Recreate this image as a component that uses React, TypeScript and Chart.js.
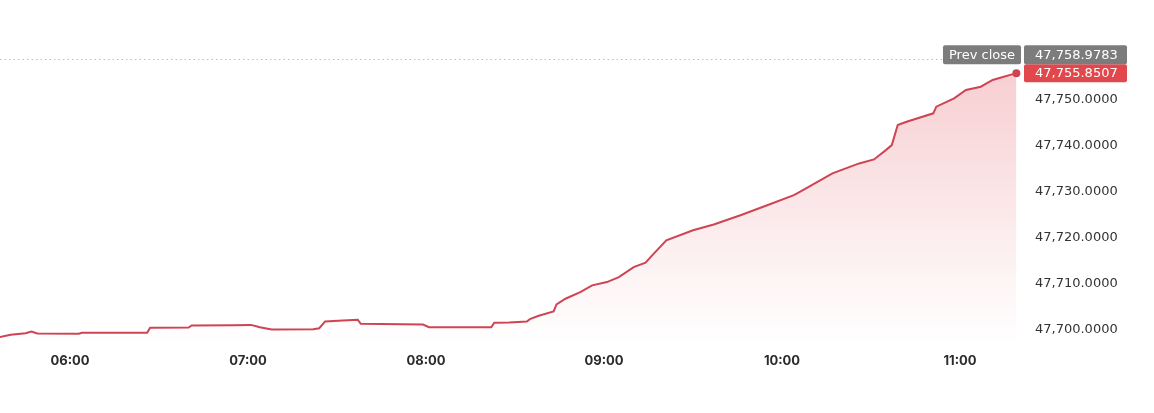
import React, { useEffect, useRef } from 'react';
import { Chart, registerables } from 'chart.js';

Chart.register(...registerables);

const times = [
  '05:36', '05:40', '05:45', '05:47', '05:49', '06:03', '06:04', '06:26', '06:27', '06:40',
  '06:41', '06:55', '07:01', '07:04', '07:08', '07:22', '07:24', '07:26', '07:32', '07:37',
  '07:38', '07:59', '08:01', '08:22', '08:23', '08:28', '08:34', '08:35', '08:38', '08:43',
  '08:44', '08:47', '08:52', '08:56', '09:01', '09:05', '09:10', '09:14', '09:16', '09:21',
  '09:30', '09:37', '09:46', '09:55', '10:04', '10:06', '10:13', '10:17', '10:26', '10:31',
  '10:35', '10:37', '10:39', '10:42', '10:51', '10:52', '10:58', '11:02', '11:07', '11:11',
  '11:13', '11:19',
];

const values = [
  47698.32, 47698.84, 47699.19, 47699.56, 47699.13, 47699.06, 47699.28, 47699.28, 47700.37, 47700.44,
  47700.87, 47700.94, 47701.0, 47700.5, 47700.0, 47700.07, 47700.28, 47701.75, 47701.97, 47702.12,
  47701.24, 47701.09, 47700.5, 47700.5, 47701.46, 47701.53, 47701.75, 47702.25, 47702.99, 47703.93,
  47705.46, 47706.7, 47708.14, 47709.61, 47710.33, 47711.42, 47713.6, 47714.56, 47716.0, 47719.43,
  47721.62, 47722.86, 47724.89, 47727.07, 47729.26, 47730.0, 47732.53, 47734.0, 47736.18, 47737.05,
  47739.08, 47740.17, 47744.54, 47745.26, 47747.1, 47748.54, 47750.37, 47752.18, 47752.9, 47754.37,
  47754.74, 47755.8507,
];

const yTickValues = [47700, 47710, 47720, 47730, 47740, 47750];
const xTickLabels = ['06:00', '07:00', '08:00', '09:00', '10:00', '11:00'];
const prevCloseLabel = 'Prev close';
const prevClose = 47758.9783;
const lastPrice = 47755.8507;

const X_MIN = 336.4;
const X_MAX = 680.22;
const Y_MIN = 47696.62;
const Y_MAX = 47769.61;

const FONT = 'Inter, "Open Sans", "Liberation Sans", sans-serif';
const NUM_FONT = '"DejaVu Sans", sans-serif';
const LINE_COLOR = '#cf4453';
const RED = '#e2474b';
const GREY = '#7c7c7c';

function toMin(s: string): number {
  const [h, m] = s.split(':').map(Number);
  return h * 60 + m;
}

function fmt(v: number): string {
  return v.toLocaleString('en-US', { minimumFractionDigits: 4, maximumFractionDigits: 4 });
}

function roundRect(ctx: CanvasRenderingContext2D, x: number, y: number, w: number, h: number, r: number) {
  ctx.beginPath();
  ctx.moveTo(x + r, y);
  ctx.lineTo(x + w - r, y);
  ctx.quadraticCurveTo(x + w, y, x + w, y + r);
  ctx.lineTo(x + w, y + h - r);
  ctx.quadraticCurveTo(x + w, y + h, x + w - r, y + h);
  ctx.lineTo(x + r, y + h);
  ctx.quadraticCurveTo(x, y + h, x, y + h - r);
  ctx.lineTo(x, y + r);
  ctx.quadraticCurveTo(x, y, x + r, y);
  ctx.closePath();
}

const refPlugin = {
  id: 'refBadges',
  beforeDatasetsDraw(chart: any) {
    const { ctx, chartArea, scales } = chart;
    const py = Math.round(scales.y.getPixelForValue(prevClose)) + 0.5;
    ctx.save();
    ctx.strokeStyle = '#bdbdbd';
    ctx.lineWidth = 1;
    ctx.setLineDash([1.5, 3]);
    ctx.beginPath();
    ctx.moveTo(chartArea.left, py);
    ctx.lineTo(chartArea.right - 78, py);
    ctx.stroke();
    ctx.restore();
  },
  afterDraw(chart: any) {
    const { ctx, chartArea, scales } = chart;
    const ly = scales.y.getPixelForValue(lastPrice);
    const boxX = chartArea.right + 4;
    const boxW = 103;
    const redTop = ly - 9;
    const redH = 18;
    const greyH = 19;
    const greyTop = redTop - greyH;
    ctx.save();
    ctx.font = '13px ' + NUM_FONT;
    ctx.textBaseline = 'middle';
    ctx.textAlign = 'left';
    ctx.fillStyle = RED;
    roundRect(ctx, boxX, redTop, boxW, redH, 2);
    ctx.fill();
    ctx.fillStyle = GREY;
    roundRect(ctx, boxX, greyTop, boxW, greyH, 2);
    ctx.fill();
    const pcW = 78;
    roundRect(ctx, chartArea.right - pcW + 1, greyTop, pcW, greyH, 2);
    ctx.fill();
    ctx.fillStyle = '#ffffff';
    ctx.fillText(fmt(lastPrice), chartArea.right + 15, redTop + redH / 2 + 0.5);
    ctx.fillText(fmt(prevClose), chartArea.right + 15, greyTop + greyH / 2 + 0.5);
    ctx.textAlign = 'center';
    ctx.fillText(prevCloseLabel, chartArea.right - pcW / 2 + 1, greyTop + greyH / 2 + 0.5);
    ctx.restore();
  },
};

export default function App() {
  const canvasRef = useRef<HTMLCanvasElement | null>(null);

  useEffect(() => {
    const canvas = canvasRef.current;
    if (!canvas) return;
    const ctx = canvas.getContext('2d')!;
    const grad = ctx.createLinearGradient(0, 70, 0, 345);
    grad.addColorStop(0, 'rgba(226, 80, 90, 0.28)');
    grad.addColorStop(0.6, 'rgba(226, 80, 90, 0.10)');
    grad.addColorStop(1, 'rgba(226, 80, 90, 0.0)');

    const data = times.map((t, i) => ({ x: toMin(t), y: values[i] }));
    const lastIdx = data.length - 1;

    const chart = new Chart(canvas, {
      type: 'line',
      data: {
        datasets: [
          {
            data,
            borderColor: LINE_COLOR,
            borderWidth: 2,
            backgroundColor: grad,
            fill: 'start',
            tension: 0,
            pointRadius: (c: any) => (c.dataIndex === lastIdx ? 4 : 0),
            pointBackgroundColor: LINE_COLOR,
            pointBorderWidth: 0,
            pointHoverRadius: 0,
            clip: false,
          },
        ],
      },
      options: {
        animation: false,
        responsive: false,
        maintainAspectRatio: false,
        layout: { autoPadding: false, padding: { top: 10, left: 0, right: 0, bottom: 0 } },
        plugins: { legend: { display: false }, tooltip: { enabled: false } },
        events: [],
        scales: {
          x: {
            type: 'linear',
            min: X_MIN,
            max: X_MAX,
            grid: { display: false, drawTicks: false },
            border: { display: false },
            afterBuildTicks: (scale: any) => {
              scale.ticks = xTickLabels.map((l) => ({ value: toMin(l) }));
            },
            afterFit: (scale: any) => {
              scale.height = 68;
              scale.paddingLeft = 0;
              scale.paddingRight = 0;
              scale.paddingTop = 0;
              scale.paddingBottom = 0;
            },
            ticks: {
              autoSkip: false,
              maxRotation: 0,
              padding: 8,
              color: '#2b2b2b',
              font: { family: FONT, size: 13, weight: 'bold' },
              callback: (v: any) => {
                const m = Number(v);
                const h = Math.floor(m / 60);
                const mm = m % 60;
                return String(h).padStart(2, '0') + ':' + String(mm).padStart(2, '0');
              },
            },
          },
          y: {
            type: 'linear',
            position: 'right',
            min: Y_MIN,
            max: Y_MAX,
            grid: { display: false, drawTicks: false },
            border: { display: false },
            afterBuildTicks: (scale: any) => {
              scale.ticks = yTickValues.map((v) => ({ value: v }));
            },
            afterFit: (scale: any) => {
              scale.width = 134;
              scale.paddingTop = 0;
              scale.paddingBottom = 0;
              scale.paddingLeft = 0;
              scale.paddingRight = 0;
            },
            ticks: {
              padding: 15,
              color: '#333333',
              font: { family: NUM_FONT, size: 13 },
              callback: (v: any) => fmt(Number(v)),
            },
          },
        },
      },
      plugins: [refPlugin],
    } as any);

    return () => chart.destroy();
  }, []);

  return (
    <div style={{ position: 'absolute', left: 0, top: 0, width: 1154, height: 413, background: '#fff' }}>
      <canvas ref={canvasRef} width={1154} height={413} style={{ width: 1154, height: 413, display: 'block' }} />
    </div>
  );
}
